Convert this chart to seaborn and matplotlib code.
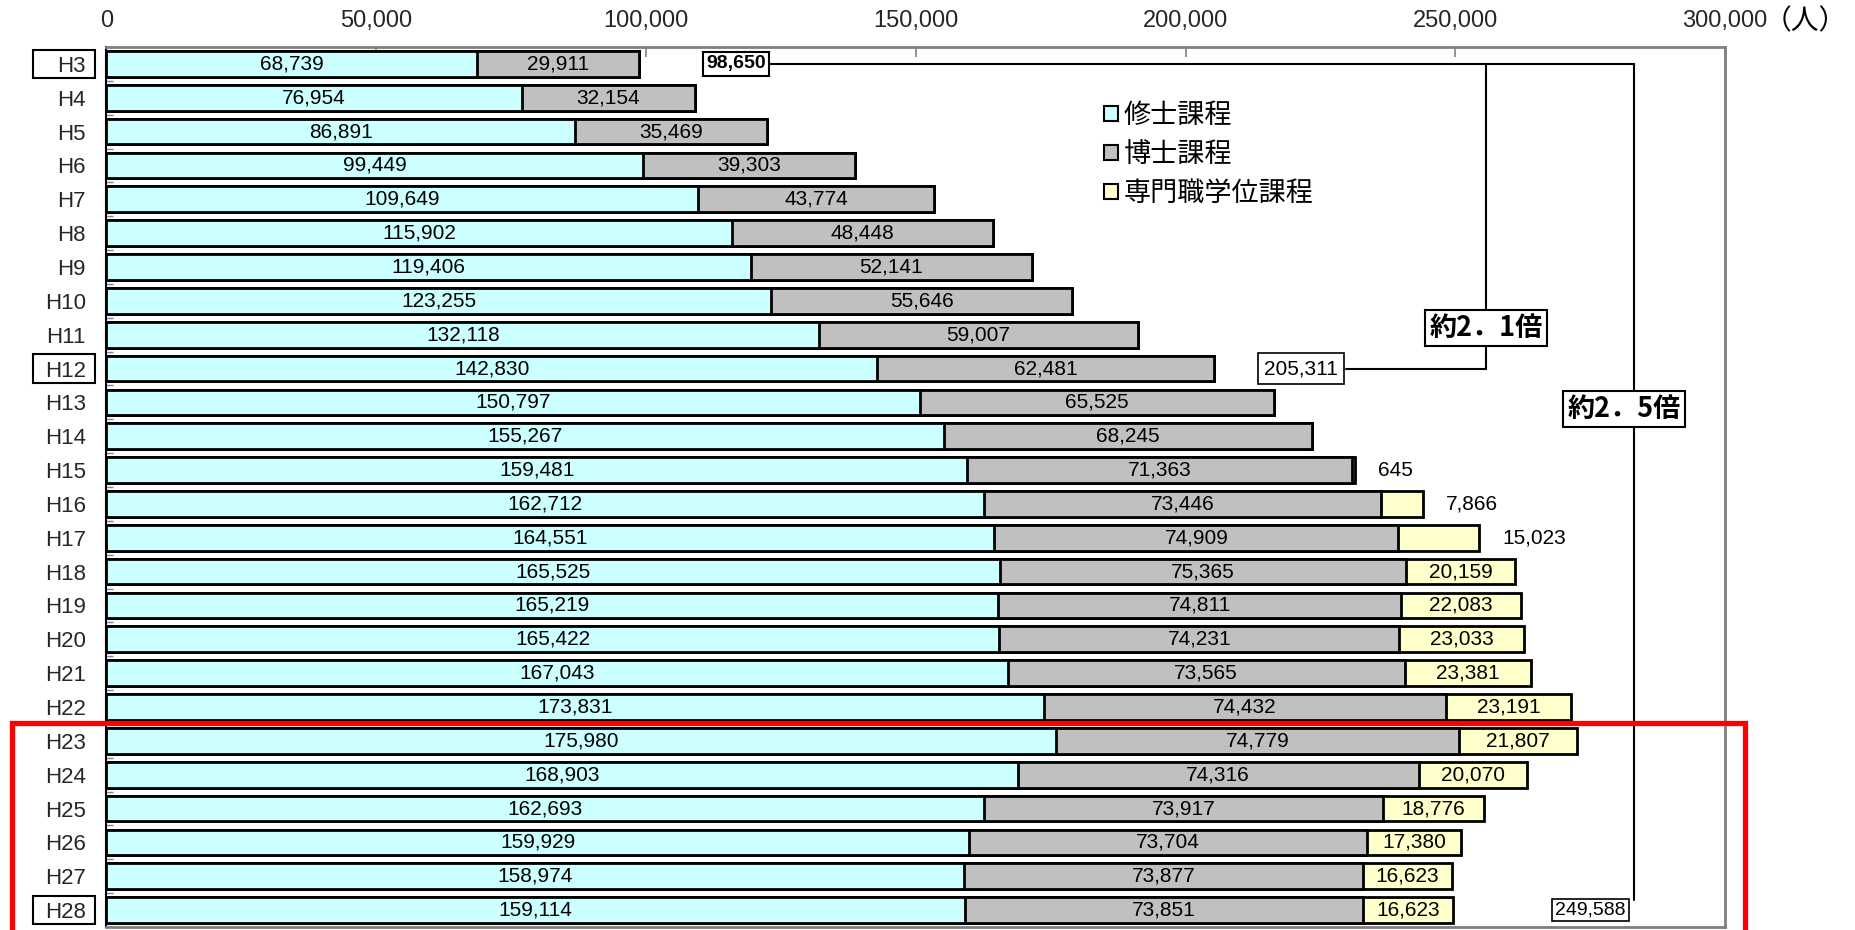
import numpy as np
import pandas as pd
import matplotlib
matplotlib.use("Agg")
import matplotlib.pyplot as plt
import seaborn as sns
from matplotlib.patches import Rectangle, Patch
from matplotlib.lines import Line2D
from matplotlib.transforms import blended_transform_factory

# ---------------- data ----------------
years = ["H3", "H4", "H5", "H6", "H7", "H8", "H9", "H10", "H11", "H12", "H13", "H14",
         "H15", "H16", "H17", "H18", "H19", "H20", "H21", "H22", "H23", "H24", "H25",
         "H26", "H27", "H28"]
master = [68739, 76954, 86891, 99449, 109649, 115902, 119406, 123255, 132118, 142830,
          150797, 155267, 159481, 162712, 164551, 165525, 165219, 165422, 167043, 173831,
          175980, 168903, 162693, 159929, 158974, 159114]
doctor = [29911, 32154, 35469, 39303, 43774, 48448, 52141, 55646, 59007, 62481,
          65525, 68245, 71363, 73446, 74909, 75365, 74811, 74231, 73565, 74432,
          74779, 74316, 73917, 73704, 73877, 73851]
professional = [0, 0, 0, 0, 0, 0, 0, 0, 0, 0, 0, 0,
                645, 7866, 15023, 20159, 22083, 23033, 23381, 23191,
                21807, 20070, 18776, 17380, 16623, 16623]
series_names = ["修士課程", "博士課程", "専門職学位課程"]
series_colors = ["#CCFFFF", "#C0C0C0", "#FFFFCC"]
x_ticks = [0, 50000, 100000, 150000, 200000, 250000, 300000]
unit_label = "（人）"
boxed_years = ["H3", "H12", "H28"]

# ---------------- style ----------------
sns.set_theme(style="white")
plt.rcParams["font.family"] = ["Liberation Sans", "Noto Sans CJK JP", "DejaVu Sans"]
plt.rcParams["text.color"] = "black"

df = pd.DataFrame({"year": years, "master": master, "doctor": doctor,
                   "professional": professional})
df["md"] = df["master"] + df["doctor"]
df["total"] = df["md"] + df["professional"]
n = len(years)

fig = plt.figure(figsize=(18.56, 9.30), dpi=100)
W, H = 1856, 930
ax = fig.add_axes([106.5 / W, 3 / H, (1725 - 106.5) / W, (927 - 47) / H])

bw = 0.76
for col, c in [("total", series_colors[2]), ("md", series_colors[1]), ("master", series_colors[0])]:
    sns.barplot(data=df, y="year", x=col, orient="h", color=c, saturation=1,
                edgecolor="black", linewidth=2, width=bw, ax=ax, order=years)

ax.set_xlim(0, 300000)
ax.set_ylim(n - 0.5, -0.5)
ax.set_xlabel("")
ax.set_ylabel("")

# value labels
fs_val = 15
for i in range(n):
    m, d, p = master[i], doctor[i], professional[i]
    ax.text(m / 2, i, f"{m:,}", ha="center", va="center", fontsize=fs_val)
    ax.text(m + d / 2, i, f"{d:,}", ha="center", va="center", fontsize=fs_val)
    if p > 0:
        if p < 16000:
            ax.text(m + d + p + 4200, i, f"{p:,}", ha="left", va="center", fontsize=fs_val)
        else:
            ax.text(m + d + p / 2, i, f"{p:,}", ha="center", va="center", fontsize=fs_val)

# axes / ticks
ax.xaxis.set_ticks_position("top")
ax.set_xticks(x_ticks)
ax.set_xticklabels([f"{v:,}" for v in x_ticks])
ax.tick_params(axis="x", which="major", direction="in", length=7, width=1.2,
               color="#808080", pad=11, labelsize=17, top=True, bottom=False)
ax.set_yticks(range(n))
ax.set_yticklabels(years)
ax.tick_params(axis="y", which="major", length=0, pad=15, labelsize=16)
ax.set_yticks(np.arange(0.5, n - 1, 1), minor=True)
ax.tick_params(axis="y", which="minor", direction="in", length=5, width=1,
               color="#808080", left=True)

for s in ["top", "right", "bottom"]:
    ax.spines[s].set_color("#808080")
    ax.spines[s].set_linewidth(2)
ax.spines["left"].set_color("black")
ax.spines["left"].set_linewidth(1.5)

fig.text(1764 / W, 1 - 21 / H, unit_label, ha="left", va="center", fontsize=20,
         family=["Noto Sans CJK JP"])

# boxes around selected year labels
trans = blended_transform_factory(fig.transFigure, ax.transData)
for y in boxed_years:
    i = years.index(y)
    fig.add_artist(Rectangle((33 / W, i - 0.42), (95 - 33) / W, 0.84, transform=trans,
                             fill=False, ec="black", lw=1.5, clip_on=False))

# legend
handles = [Patch(fc=c, ec="black", lw=1.5) for c in series_colors]
fig.legend(handles, series_names, loc="upper left", bbox_to_anchor=(1104 / W, 1 - 102 / H),
           frameon=False, handlelength=0.5, handleheight=0.5,
           handletextpad=0.22, labelspacing=0.45, borderpad=0, borderaxespad=0,
           prop={"family": ["Noto Sans CJK JP"], "size": 19.5})

# growth annotations
t0 = df["total"].iloc[0]
i12 = years.index("H12")
t12 = df["total"].iloc[i12]
t28 = df["total"].iloc[-1]
lk = dict(color="black", lw=1.5, zorder=4)
x_a, x_b = 255670, 283100
ax.plot([122900, x_b], [0, 0], **lk)
ax.plot([x_a, x_a], [0, i12], **lk)
ax.plot([229780, x_a], [i12, i12], **lk)
ax.plot([x_b, x_b], [0, n - 1 - 0.3], **lk)

ax.text(116650, 0, f"{t0:,}", ha="center", va="center", fontsize=14, fontweight="bold",
        zorder=6, bbox=dict(boxstyle="square,pad=0.18", fc="white", ec="black", lw=1.5))
ax.text(221440, i12, f"{t12:,}", ha="center", va="center", fontsize=15,
        zorder=6, bbox=dict(boxstyle="square,pad=0.3", fc="white", ec="black", lw=1.2))
ax.text(275100, n - 1, f"{t28:,}", ha="center", va="center", fontsize=14,
        zorder=6, bbox=dict(boxstyle="square,pad=0.15", fc="white", ec="black", lw=1.2))
r1 = round(t12 / t0, 1)
r2 = round(t28 / t0, 1)
lab1 = "約" + str(r1).replace(".", "．") + "倍"
lab2 = "約" + str(r2).replace(".", "．") + "倍"
ax.text(x_a, 7.8, lab1, ha="center", va="center", fontsize=19.5, fontweight="bold",
        family=["Noto Sans CJK JP"], zorder=6,
        bbox=dict(boxstyle="square,pad=0.15", fc="white", ec="black", lw=1.5))
ax.text(281300, 10.2, lab2, ha="center", va="center", fontsize=19.5, fontweight="bold",
        family=["Noto Sans CJK JP"], zorder=6,
        bbox=dict(boxstyle="square,pad=0.15", fc="white", ec="black", lw=1.5))

# red highlight frame
x0, x1, yt = 12 / W, 1745 / W, 1 - 723 / H
fig.add_artist(Line2D([x0, x0, x1, x1], [-0.05, yt, yt, -0.05], transform=fig.transFigure,
                      color="#FF0000", lw=3.8, solid_joinstyle="miter", zorder=10))

fig.savefig("out.png", dpi=100)
